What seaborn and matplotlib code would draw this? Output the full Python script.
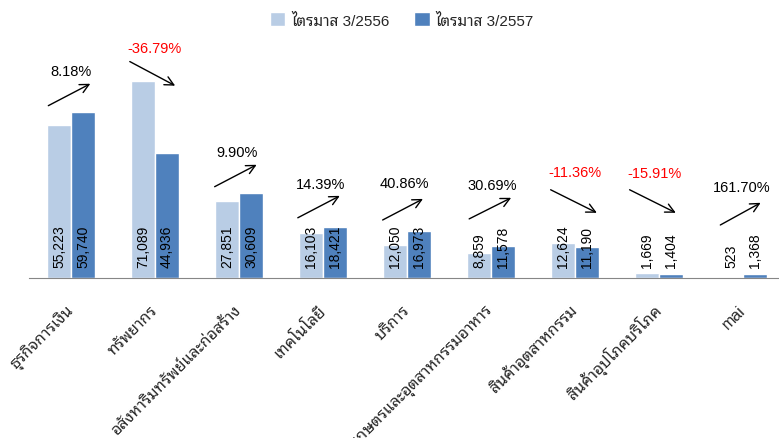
import matplotlib
matplotlib.use('Agg')
import matplotlib.pyplot as plt
from matplotlib import font_manager
import seaborn as sns
import pandas as pd

sectors = ["ธุรกิจการเงิน", "ทรัพยากร", "อสังหาริมทรัพย์และก่อสร้าง", "เทคโนโลยี", "บริการ",
           "เกษตรและอุตสาหกรรมอาหาร", "สินค้าอุตสาหกรรม", "สินค้าอุปโภคบริโภค", "mai"]
q3_2556 = [55223, 71089, 27851, 16103, 12050, 8859, 12624, 1669, 523]
q3_2557 = [59740, 44936, 30609, 18421, 16973, 11578, 11190, 1404, 1368]
changes = ["8.18%", "-36.79%", "9.90%", "14.39%", "40.86%", "30.69%", "-11.36%", "-15.91%", "161.70%"]
series_names = ["ไตรมาส 3/2556", "ไตรมาส 3/2557"]

# arrow placement per group: (x start offset, x end offset, y start, y end, text y) in data units
arrow_layout = [
    (-0.27, 0.23, 62100, 70000, 74700),
    (-0.30, 0.24, 78000, 69300, 83000),
    (-0.29, 0.21, 32900, 40800, 45500),
    (-0.30, 0.20, 21700, 29600, 33900),
    (-0.29, 0.19, 20900, 28500, 34300),
    (-0.26, 0.24, 21300, 28900, 33600),
    (-0.29, 0.26, 31800, 23500, 38300),
    (-0.35, 0.20, 31800, 23500, 37900),
    (-0.27, 0.21, 19100, 27100, 32900),
]

sns.set_style("white")
installed = {f.name for f in font_manager.fontManager.ttflist}
families = [f for f in ["Liberation Sans", "Noto Sans Thai Looped", "Noto Sans Thai", "Noto Sans Thai UI",
                        "Sarabun", "DejaVu Sans"] if f in installed]
plt.rcParams['font.family'] = families

df = pd.DataFrame({
    "sector": sectors * 2,
    "period": [series_names[0]] * len(sectors) + [series_names[1]] * len(sectors),
    "value": q3_2556 + q3_2557,
})

fig = plt.figure(figsize=(7.79, 4.39), dpi=100)
ax = fig.add_axes([29 / 779, 160 / 439, 756 / 779, 222 / 439])

sns.barplot(data=df, x="sector", y="value", hue="period", palette=["#B9CDE5", "#4F81BD"],
            width=0.57, gap=0, saturation=1, ax=ax, legend=True)

ax.set_xlim(-0.5, 8.5)
ax.set_ylim(0, 80000)
ax.set_xlabel("")
ax.set_ylabel("")
ax.set_yticks([])
for side in ["left", "right", "top"]:
    ax.spines[side].set_visible(False)
ax.spines["bottom"].set_color("#868686")

# value labels inside bars
for container in ax.containers:
    for bar in container:
        h = bar.get_height()
        ax.text(bar.get_x() + bar.get_width() / 2, 4000, f"{h:,.0f}", rotation=90,
                ha="center", va="bottom", fontsize=10, color="black")

# change labels with arrows
for i, (txt, lay) in enumerate(zip(changes, arrow_layout)):
    x0, x1, y0, y1, ty = lay
    color = "#FF0000" if txt.startswith("-") else "black"
    ax.annotate("", xy=(i + x1, y1), xytext=(i + x0, y0),
                arrowprops=dict(arrowstyle="->", color="black", lw=1, mutation_scale=16,
                                shrinkA=0, shrinkB=0))
    ax.text(i + (x0 + x1) / 2 + 0.02, ty, txt, ha="center", va="center", fontsize=10.5, color=color)

# ticks between categories, labels at centers
ax.set_xticks(range(len(sectors)))
ax.set_xticklabels(sectors, rotation=45, ha="right", va="center", rotation_mode="anchor", fontsize=11.5)
ax.tick_params(axis="x", which="major", length=0, pad=21)
ax.set_xticks([i - 0.5 for i in range(len(sectors) + 1)], minor=True)
ax.tick_params(axis="x", which="minor", length=5, color="#868686", width=1)

handles, labels = ax.get_legend_handles_labels()
ax.get_legend().remove()
fig.legend(handles, labels, loc="center", bbox_to_anchor=(402 / 779, 1 - 21 / 439), ncol=2,
           frameon=False, fontsize=11, handlelength=1.0, handleheight=1.0, handletextpad=0.4,
           columnspacing=1.6)

fig.savefig("out.png", dpi=100, facecolor="white")
